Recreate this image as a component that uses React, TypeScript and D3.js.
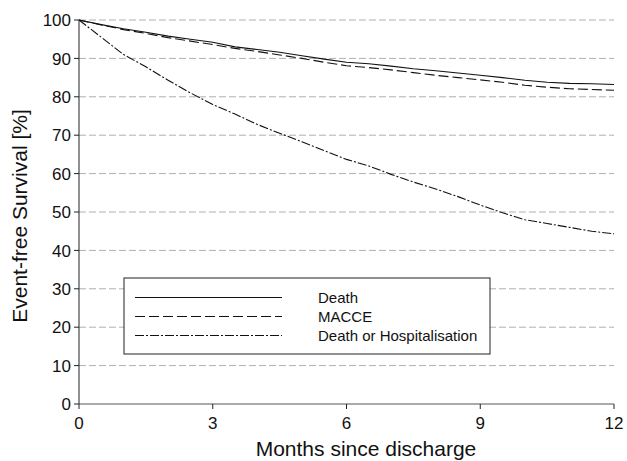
import React from "react";
import * as d3 from "d3";

const months = [0, 0.5, 1, 1.5, 2, 2.5, 3, 3.5, 4, 4.5, 5, 5.5, 6, 6.5, 7, 7.5, 8, 8.5, 9, 9.5, 10, 10.5, 11, 11.5, 12];
const death = [100, 98.8, 97.7, 96.8, 95.8, 95.0, 94.2, 93.0, 92.3, 91.6, 90.7, 89.8, 89.0, 88.6, 88.0, 87.3, 86.8, 86.2, 85.6, 85.0, 84.3, 83.8, 83.5, 83.4, 83.2];
const macce = [100, 98.7, 97.5, 96.5, 95.4, 94.5, 93.6, 92.6, 91.8, 90.9, 90.0, 89.0, 88.1, 87.6, 87.0, 86.3, 85.6, 85.0, 84.4, 83.8, 83.0, 82.5, 82.1, 81.9, 81.7];
const deathHosp = [100, 95.5, 91.0, 87.8, 84.3, 81.0, 78.0, 75.5, 72.8, 70.5, 68.3, 66.0, 63.7, 62.0, 59.8, 57.8, 56.0, 54.0, 51.8, 49.8, 48.0, 47.0, 46.0, 45.0, 44.3];
const seriesNames = ["Death", "MACCE", "Death or Hospitalisation"];
const xTicks = [0, 3, 6, 9, 12];
const yTicks = [0, 10, 20, 30, 40, 50, 60, 70, 80, 90, 100];
const xTitle = "Months since discharge";
const yTitle = "Event-free Survival [%]";

const W = 627, H = 461;
const left = 79, right = 614, top = 20, bottom = 404;
const dashes = ["none", "10,4", "9,2,2,2"];
const font = "'Liberation Sans', Arial, sans-serif";

export default function App() {
  const x = d3.scaleLinear().domain([0, 12]).range([left, right]);
  const y = d3.scaleLinear().domain([0, 100]).range([bottom, top]);
  const line = d3.line<number>().x((_, i) => x(months[i])).y((d) => y(d));
  const all = [death, macce, deathHosp];
  const legX1 = 124, legX2 = 490, legY1 = 278, legY2 = 354;
  const rowY = [297.5, 316.5, 335.5];
  return (
    <svg width={W} height={H} style={{ position: "absolute", left: 0, top: 0, background: "#fff" }} fontFamily={font}>
      {yTicks.filter((t) => t > 0).map((t) => (
        <line key={"g" + t} x1={left} x2={right} y1={y(t)} y2={y(t)} stroke="#b0b0b0" strokeWidth={1} strokeDasharray="7,3" />
      ))}
      {all.map((s, i) => (
        <path key={"s" + i} d={line(s) || ""} fill="none" stroke="#111" strokeWidth={1.1} strokeDasharray={dashes[i]} />
      ))}
      <line x1={left} x2={left} y1={top} y2={bottom} stroke="#222" />
      <line x1={left} x2={right} y1={bottom} y2={bottom} stroke="#555" />
      {yTicks.map((t) => (
        <g key={"y" + t}>
          <line x1={left - 5} x2={left} y1={y(t)} y2={y(t)} stroke="#222" />
          <text x={left - 8} y={y(t)} dy="0.36em" textAnchor="end" fontSize={17} fill="#111">{t}</text>
        </g>
      ))}
      {xTicks.map((t) => (
        <g key={"x" + t}>
          <line x1={x(t)} x2={x(t)} y1={bottom} y2={bottom + 5} stroke="#222" />
          <text x={x(t)} y={bottom + 25} textAnchor="middle" fontSize={17} fill="#111">{t}</text>
        </g>
      ))}
      <text x={366} y={456} textAnchor="middle" fontSize={21} fill="#111">{xTitle}</text>
      <text transform={`translate(27,216) rotate(-90)`} textAnchor="middle" fontSize={21} fill="#111">{yTitle}</text>
      <rect x={legX1} y={legY1} width={legX2 - legX1} height={legY2 - legY1} fill="#fff" stroke="#222" strokeWidth={1} />
      {seriesNames.map((n, i) => (
        <g key={"l" + i}>
          <line x1={135} x2={282} y1={rowY[i]} y2={rowY[i]} stroke="#111" strokeWidth={1.1} strokeDasharray={dashes[i]} />
          <text x={318} y={rowY[i]} dy="0.35em" fontSize={15} fill="#111">{n}</text>
        </g>
      ))}
    </svg>
  );
}
